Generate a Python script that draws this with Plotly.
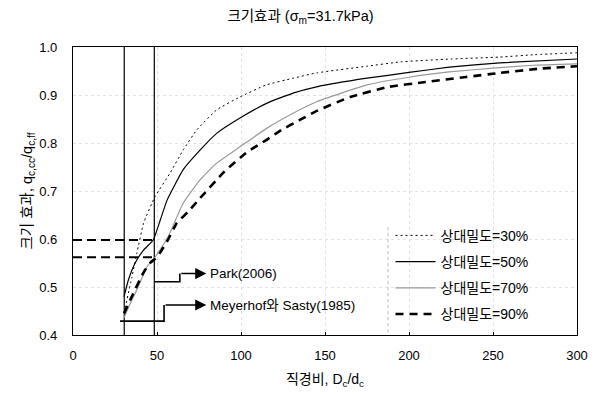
import plotly.graph_objects as go

# ---- data ----
x30 = [30.4, 35, 38, 42, 48.8, 57.7, 65.5, 73.6, 85.5, 99.4, 115, 131, 145, 175, 195, 225, 254, 275, 300]
y30 = [0.446, 0.52, 0.57, 0.633, 0.688, 0.737, 0.785, 0.827, 0.869, 0.896, 0.921, 0.935, 0.946, 0.960, 0.969, 0.975, 0.979, 0.984, 0.988]

x50 = [30.4, 33, 37, 42, 47.8, 52, 56, 65.5, 75.6, 85.5, 99.4, 115.5, 131, 145, 175, 200, 224, 254, 300]
y50 = [0.48, 0.515, 0.55, 0.577, 0.598, 0.64, 0.681, 0.744, 0.785, 0.82, 0.852, 0.883, 0.904, 0.917, 0.935, 0.947, 0.958, 0.967, 0.975]

x70 = [30.4, 34, 38, 44, 49, 56.5, 65.5, 75.6, 85.5, 99.4, 115.5, 131, 145, 175, 200, 224, 250, 274, 300]
y70 = [0.436, 0.465, 0.494, 0.542, 0.563, 0.604, 0.674, 0.723, 0.758, 0.792, 0.831, 0.862, 0.886, 0.921, 0.937, 0.948, 0.956, 0.962, 0.965]

x90 = [30.4, 35, 41.8, 45.8, 50, 56.5, 61.7, 68.6, 75.6, 90, 104, 115, 124, 135, 144, 165, 188, 210, 234, 254, 278, 300]
y90 = [0.445, 0.48, 0.529, 0.55, 0.562, 0.598, 0.633, 0.657, 0.685, 0.74, 0.782, 0.806, 0.827, 0.848, 0.865, 0.896, 0.917, 0.927, 0.9375, 0.946, 0.955, 0.96]

series_names = ["상대밀도=30%", "상대밀도=50%", "상대밀도=70%", "상대밀도=90%"]

# reference lines
vline_x = [30.5, 48.4]
hline_y = [0.598, 0.562]
hline_xend = [48.4, 50.0]

# Park(2006) pointer path
park_x = [48.4, 63.6, 63.6]
park_y = [0.511, 0.511, 0.528]
park_arrow_end = 79.4
park_label = "Park(2006)"

# Meyerhof pointer path
mey_x = [28.0, 54.2, 54.2]
mey_y = [0.429, 0.429, 0.4625]
mey_arrow_end = 79.4
mey_label = "Meyerhof와 Sasty(1985)"

FONT = "Arial, 'Liberation Sans', 'Noto Sans CJK KR', sans-serif"

fig = go.Figure()

for xv in vline_x:
    fig.add_trace(go.Scatter(x=[xv, xv], y=[0.4, 1.0], mode="lines",
                             line=dict(color="black", width=1.2), showlegend=False, hoverinfo="skip"))
for yv, xe in zip(hline_y, hline_xend):
    fig.add_trace(go.Scatter(x=[0, xe], y=[yv, yv], mode="lines",
                             line=dict(color="black", width=2, dash="9px,5px"), showlegend=False, hoverinfo="skip"))
fig.add_trace(go.Scatter(x=park_x, y=park_y, mode="lines", line=dict(color="black", width=1.6),
                         showlegend=False, hoverinfo="skip"))
fig.add_trace(go.Scatter(x=mey_x, y=mey_y, mode="lines", line=dict(color="black", width=1.6),
                         showlegend=False, hoverinfo="skip"))

styles = [
    dict(color="black", width=1, dash="2px,3px"),
    dict(color="black", width=1.2, dash="solid"),
    dict(color="#9a9a9a", width=1.2, dash="solid"),
    dict(color="black", width=2.6, dash="8px,6px"),
]
for i, (xs, ys) in enumerate([(x30, y30), (x50, y50), (x70, y70), (x90, y90)]):
    fig.add_trace(go.Scatter(x=xs, y=ys, mode="lines", name=series_names[i],
                             line=dict(shape="spline", smoothing=0.4, **styles[i]),
                             legendgroup=f"g{i}"))

for path_x, path_y, xend, label in [(park_x, park_y, park_arrow_end, park_label),
                                     (mey_x, mey_y, mey_arrow_end, mey_label)]:
    fig.add_annotation(x=xend, y=path_y[-1], ax=path_x[-1], ay=path_y[-1], xref="x", yref="y",
                       axref="x", ayref="y", text="", showarrow=True, arrowhead=2,
                       arrowsize=1.4, arrowwidth=1.6, arrowcolor="black")
    fig.add_annotation(x=xend + 0.8, y=path_y[-1], xref="x", yref="y", text=label, showarrow=False,
                       xanchor="left", yanchor="middle", font=dict(size=13.5, color="black", family=FONT))

fig.add_shape(type="line", xref="paper", yref="paper", x0=0.625, x1=0.625, y0=0.01, y1=0.38,
              line=dict(color="#b8b8b8", width=1, dash="dot"))

axis_common = dict(showline=True, linecolor="black", linewidth=1.3, mirror=True,
                   showgrid=True, gridcolor="#e2e2e2", griddash="dot", gridwidth=1,
                   zeroline=False, tickfont=dict(size=13, color="black", family=FONT))

fig.update_layout(
    width=601, height=396,
    margin=dict(l=73, r=24, t=47, b=61),
    paper_bgcolor="white", plot_bgcolor="white",
    font=dict(family=FONT, color="black"),
    title=dict(text="크기효과 (σ<sub>m</sub>=31.7kPa)", x=0.5, xref="container", xanchor="center",
               y=0.96, yref="container", yanchor="middle", font=dict(size=14.5, color="black")),
    xaxis=dict(range=[0, 300], tickvals=[0, 50, 100, 150, 200, 250, 300],
               ticks="inside", ticklen=3, tickcolor="black", ticklabelstandoff=8,
               title=dict(text="직경비, D<sub>c</sub>/d<sub>c</sub>", font=dict(size=14), standoff=12),
               **axis_common),
    yaxis=dict(range=[0.4, 1.0], tickvals=[0.4, 0.5, 0.6, 0.7, 0.8, 0.9, 1.0], tickformat=".1f",
               ticks="outside", ticklen=12, tickcolor="white",
               title=dict(text="크기 효과, q<sub>c,cc</sub>/q<sub>c,ff</sub>", font=dict(size=14.5), standoff=3),
               **axis_common),
    legend=dict(x=0.63, y=0.40, xanchor="left", yanchor="top", bgcolor="rgba(0,0,0,0)",
                font=dict(size=14, color="black"), tracegroupgap=5, itemwidth=40),
    showlegend=True,
)

fig.write_html("out.html")
